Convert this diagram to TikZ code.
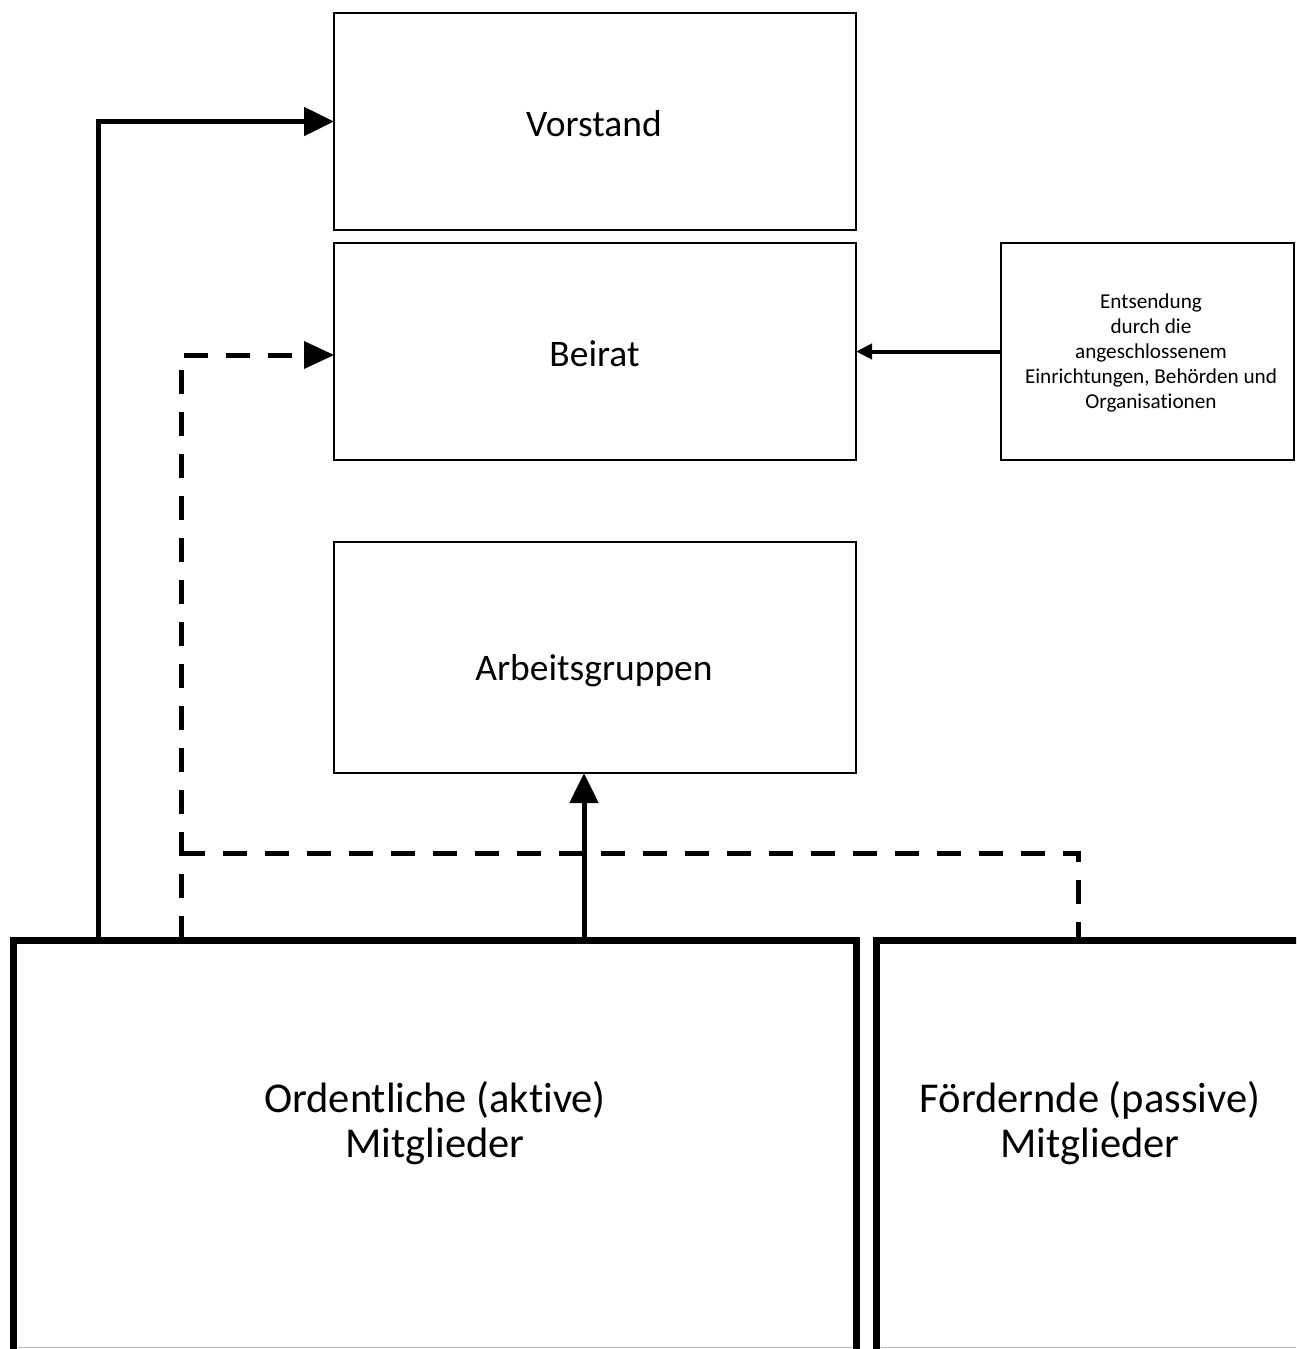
\documentclass[tikz,border=0pt]{standalone}
\usepackage{fontspec}
\setmainfont{Carlito}[Ligatures={NoCommon}]
\usetikzlibrary{arrows.meta}
\begin{document}
\begin{tikzpicture}[x=1pt,y=-1pt,
  thinbox/.style={draw=black,line width=2.5pt,rectangle,inner sep=0pt,outer sep=0pt},
  thickbox/.style={draw=black,line width=7pt,rectangle,inner sep=0pt,outer sep=0pt},
  bigtxt/.style={font=\fontsize{37.5}{45}\selectfont,anchor=base,inner sep=0pt},
  hugetxt/.style={font=\fontsize{42.5}{45}\selectfont,align=center,anchor=base,inner sep=0pt},
  smalltxt/.style={font=\fontsize{21.2}{25}\selectfont,align=center,anchor=base,inner sep=0pt},
  solidcon/.style={line width=5pt,-{Triangle[length=30pt,width=28pt]}},
  dashcon/.style={line width=5pt,dash pattern=on 24pt off 18pt},
  smallcon/.style={line width=4pt,-{Triangle[length=16pt,width=15pt]}}
]
\useasboundingbox (0,0) rectangle (1296,1349);
\clip (0,0) rectangle (1296,1349);
\fill[white] (0,0) rectangle (1296,1349);

% boxes
\node[thinbox,minimum width=522pt,minimum height=217pt] (vorstand) at (595,121.5) {};
\node[thinbox,minimum width=522pt,minimum height=217pt] (beirat) at (595,351.5) {};
\node[thinbox,minimum width=293pt,minimum height=217pt] (entsendung) at (1147.5,351.5) {};
\node[thinbox,minimum width=522pt,minimum height=231pt] (arbeit) at (595,657.5) {};
\node[thickbox,minimum width=843pt,minimum height=460pt] (ordentl) at (435,1170) {};
\node[thickbox,minimum width=455pt,minimum height=460pt] (foerd) at (1104,1170) {};

% texts (base = baseline of last line)
\node[bigtxt] (vorstand-t) at (594,136) {Vorstand};
\node[bigtxt] (beirat-t) at (594.5,366.5) {Beirat};
\node[bigtxt] (arbeit-t) at (594,680) {Arbeitsgruppen};
\node[smalltxt] (entsendung-t) at (1151,408) {Entsendung\\durch die\\angeschlossenem\\Einrichtungen, Behörden und\\Organisationen};
\node[hugetxt] (ordentl-t) at (435,1157) {Ordentliche (aktive)\\Mitglieder};
\node[hugetxt] (foerd-t) at (1090,1157) {Fördernde (passive)\\Mitglieder};

% connectors
\coordinate (c1) at ([xshift=84.5pt]ordentl.north west);
\coordinate (c2) at ([xshift=167.5pt]ordentl.north west);
\coordinate (c3) at ([xshift=-11pt]arbeit.south);
\coordinate (c4) at ([xshift=-26pt]foerd.north);
\coordinate (bw) at ([yshift=-3.5pt]beirat.west);

\draw[solidcon] (c1) -- (c1 |- vorstand.west) -- (vorstand.west);
\draw[dashcon] (c2) -- (c2 |- bw) -- ([xshift=-30pt]bw);
\fill ([xshift=-30pt,yshift=-14pt]bw) -- (bw) -- ([xshift=-30pt,yshift=14pt]bw) -- cycle;
\draw[solidcon] (c3 |- ordentl.north) -- (c3);
\draw[dashcon] (c2 |- 0,853) -- (c4 |- 0,853) -- (c4);
\draw[smallcon] (entsendung.west) -- (entsendung.west -| beirat.east);

% page edge
\draw[gray!55,line width=1.5pt] ([xshift=4pt]ordentl.south west |- 0,1347.5) -- ([xshift=-4pt]ordentl.south east |- 0,1347.5);
\draw[gray!55,line width=1.5pt] ([xshift=4pt]foerd.south west |- 0,1347.5) -- (1296,1347.5);
\end{tikzpicture}
\end{document}
